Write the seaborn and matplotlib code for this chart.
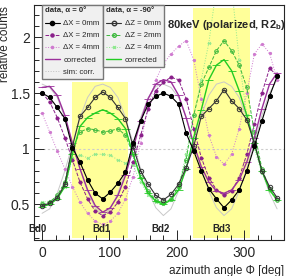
import numpy as np
import pandas as pd
import matplotlib
matplotlib.use("Agg")
import matplotlib.pyplot as plt
import seaborn as sns
from matplotlib.lines import Line2D
from matplotlib.patches import Rectangle
from matplotlib.ticker import MultipleLocator, FuncFormatter

# ─── data ────────────────────────────────────────────────
phi = [0, 11.25, 22.5, 33.75, 45, 56.25, 67.5, 78.75, 90, 101.25, 112.5, 123.75,
       135, 146.25, 157.5, 168.75, 180, 191.25, 202.5, 213.75, 225, 236.25, 247.5,
       258.75, 270, 281.25, 292.5, 303.75, 315, 326.25, 337.5, 348.75]

# alpha = 0 deg, shift in X
dx0 = [1.50, 1.46, 1.37, 1.27, 1.01, 0.88, 0.72, 0.60, 0.55, 0.61, 0.69, 0.79,
       1.05, 1.25, 1.40, 1.47, 1.50, 1.47, 1.40, 1.14, 0.98, 0.80, 0.64, 0.55,
       0.47, 0.54, 0.63, 0.80, 1.02, 1.25, 1.47, 1.65]
dx2 = [1.50, 1.42, 1.28, 1.10, 0.90, 0.70, 0.55, 0.44, 0.40, 0.43, 0.52, 0.66,
       0.88, 1.12, 1.36, 1.52, 1.60, 1.64, 1.62, 1.45, 1.18, 0.92, 0.74, 0.63,
       0.58, 0.62, 0.74, 0.95, 1.22, 1.50, 1.72, 1.66]
dx4 = [1.32, 1.15, 0.98, 0.82, 0.66, 0.52, 0.42, 0.35, 0.32, 0.35, 0.42, 0.55,
       0.75, 1.05, 1.38, 1.62, 1.76, 1.85, 1.92, 1.97, 1.80, 1.45, 1.12, 0.93,
       0.86, 0.95, 1.18, 1.50, 1.85, 1.94, 1.86, 1.62]
dx_corr = [1.55, 1.56, 1.48, 1.30, 1.05, 0.82, 0.63, 0.49, 0.43, 0.47, 0.58, 0.76,
           1.00, 1.25, 1.45, 1.58, 1.62, 1.60, 1.48, 1.28, 1.04, 0.84, 0.70, 0.62,
           0.60, 0.63, 0.72, 0.88, 1.10, 1.36, 1.58, 1.68]
sim0 = [1.58, 1.55, 1.46, 1.28, 1.05, 0.82, 0.62, 0.47, 0.40, 0.46, 0.60, 0.80,
        1.04, 1.28, 1.46, 1.56, 1.58, 1.55, 1.46, 1.28, 1.05, 0.82, 0.62, 0.47,
        0.40, 0.46, 0.62, 0.82, 1.05, 1.30, 1.50, 1.62]

# alpha = -90 deg, shift in Z
dz0 = [0.49, 0.51, 0.56, 0.68, 1.02, 1.29, 1.37, 1.46, 1.51, 1.46, 1.37, 1.27,
       1.02, 0.80, 0.68, 0.58, 0.54, 0.59, 0.68, 0.83, 1.02, 1.29, 1.36, 1.43,
       1.53, 1.43, 1.36, 1.26, 1.05, 0.80, 0.66, 0.56]
dz2 = [0.50, 0.52, 0.58, 0.70, 1.00, 1.15, 1.18, 1.17, 1.15, 1.16, 1.18, 1.12,
       0.95, 0.75, 0.62, 0.54, 0.51, 0.55, 0.66, 0.90, 1.30, 1.58, 1.73, 1.88,
       1.97, 1.88, 1.75, 1.55, 1.15, 0.82, 0.64, 0.54]
dz4 = [0.52, 0.53, 0.57, 0.66, 0.92, 0.94, 0.92, 0.95, 0.95, 0.94, 0.90, 0.87,
       0.85, 0.70, 0.58, 0.52, 0.50, 0.54, 0.66, 0.95, 1.30, 1.62, 1.95, 2.45,
       2.60, 2.45, 1.80, 1.30, 1.00, 0.78, 0.62, 0.54]
dz_corr = [0.48, 0.50, 0.55, 0.66, 0.95, 1.20, 1.28, 1.32, 1.35, 1.32, 1.27, 1.18,
           0.95, 0.74, 0.60, 0.53, 0.50, 0.54, 0.63, 0.82, 1.10, 1.35, 1.62, 1.75,
           1.80, 1.70, 1.52, 1.30, 1.05, 0.80, 0.63, 0.54]
sim90 = [0.42, 0.46, 0.60, 0.80, 1.04, 1.28, 1.46, 1.56, 1.58, 1.55, 1.46, 1.28,
         1.05, 0.82, 0.62, 0.47, 0.40, 0.46, 0.62, 0.82, 1.05, 1.30, 1.48, 1.58,
         1.60, 1.56, 1.46, 1.28, 1.04, 0.80, 0.60, 0.46]

bd_names = ["Bd0", "Bd1", "Bd2", "Bd3"]
bd_label_x = [-7, 88.6, 176, 266.6]
bd_boxes = [(44, 128, 0.20, 1.60), (224.5, 308.6, 0.20, 2.265)]

# ─── style ───────────────────────────────────────────────
sns.set_style("ticks")
plt.rcParams['font.family'] = ['Liberation Sans', 'DejaVu Sans']
plt.rcParams['mathtext.fontset'] = 'custom'
plt.rcParams['mathtext.rm'] = 'Liberation Sans'
plt.rcParams['mathtext.bf'] = 'Liberation Sans:bold'

fig, ax = plt.subplots(figsize=(2.87, 2.76), dpi=100)
fig.subplots_adjust(left=34 / 287, right=284 / 287, top=1 - 5 / 276, bottom=1 - 239.5 / 276)

for x0, x1, y0, y1 in bd_boxes:
    ax.add_patch(Rectangle((x0, y0), x1 - x0, y1 - y0, color='#ffff99', lw=0, zorder=0))
ax.axhline(1, color='#cccccc', lw=0.8, ls=(0, (2, 2)), zorder=0.5)


def draw(y, color, ls, marker, mfc, ms, lw, xe):
    sns.lineplot(x=phi, y=y, ax=ax, color=color, linestyle=ls, lw=lw, marker=marker,
                 markersize=ms, markerfacecolor=mfc, markeredgecolor=color,
                 markeredgewidth=0.7, estimator=None)
    if xe:
        ax.errorbar(phi, y, xerr=xe, fmt='none', ecolor=color, elinewidth=0.6)


purple, lpurple, cpurple = '#8a1f8a', '#cf7acf', '#9b309b'
green, lgreen, cgreen = '#3cb83c', '#8fe88f', '#22cc22'

draw(sim0, '#c8c8c8', '-', None, 'none', 0, 0.7, 0)
draw(sim90, '#c8c8c8', '-', None, 'none', 0, 0.7, 0)
draw(dx4, lpurple, ':', 'o', lpurple, 1.6, 0.7, 2.5)
draw(dz4, lgreen, ':', 'x', lgreen, 2.0, 0.7, 2.5)
draw(dx2, purple, '--', 'o', purple, 2.2, 0.7, 2.5)
draw(dz2, green, '--', 'o', 'none', 2.6, 0.7, 2.5)
draw(dx_corr, cpurple, '-', None, 'none', 0, 1.0, 6)
draw(dz_corr, cgreen, '-', None, 'none', 0, 1.0, 6)
draw(dz0, '#333333', '-', 'o', 'none', 3.2, 0.8, 2.5)
draw(dx0, 'black', '-', 'o', 'black', 3.0, 0.8, 2.5)

for name, bx in zip(bd_names, bd_label_x):
    ax.text(bx, 0.28, name, fontsize=7, fontweight='bold', ha='center', va='center')

ax.text((167 - 34) / 250, 0.915, r"80keV (polarized, R2$_\mathbf{b}$)", transform=ax.transAxes,
        fontsize=8, fontweight='bold', ha='left', va='center')

ax.set_xlim(-12, 359)
ax.set_ylim(0.185, 2.29)
ax.xaxis.set_major_locator(MultipleLocator(100))
ax.xaxis.set_minor_locator(MultipleLocator(20))
ax.yaxis.set_major_locator(MultipleLocator(0.5))
ax.yaxis.set_minor_locator(MultipleLocator(0.1))
ax.yaxis.set_major_formatter(FuncFormatter(lambda v, p: f"{v:g}"))
ax.tick_params(which='both', direction='in', width=0.7, labelsize=10, pad=3)
ax.tick_params(which='major', length=7)
ax.tick_params(which='minor', length=3.5)
ax.tick_params(axis='x', pad=5)
for s in ax.spines.values():
    s.set_visible(True)
    s.set_linewidth(0.8)

ax.set_xlabel("azimuth angle Φ [deg]", fontsize=8.5, loc='right', labelpad=3)
ax.set_ylabel("relative counts", fontsize=8.5, loc='top')
ax.yaxis.set_label_coords((11 - 34) / 250, 0.995)

# ─── legends ─────────────────────────────────────────────
h1 = [Line2D([], [], color='black', marker='o', ms=3, lw=0.8),
      Line2D([], [], color=purple, marker='o', ms=2.2, lw=0.7, ls='--'),
      Line2D([], [], color=lpurple, marker='o', ms=1.6, lw=0.7, ls=':'),
      Line2D([], [], color=cpurple, lw=1.0),
      Line2D([], [], color='#c0c0c0', lw=0.7, ls=':')]
l1 = ["ΔX = 0mm", "ΔX = 2mm", "ΔX = 4mm", "corrected", "sim: corr."]
h2 = [Line2D([], [], color='#333333', marker='o', mfc='none', ms=3.2, lw=0.8),
      Line2D([], [], color=green, marker='o', mfc='none', ms=2.6, lw=0.7, ls='--'),
      Line2D([], [], color=lgreen, marker='x', ms=2.0, lw=0.7, ls=':'),
      Line2D([], [], color=cgreen, lw=1.0)]
l2 = ["ΔZ = 0mm", "ΔZ = 2mm", "ΔZ = 4mm", "corrected"]

common = dict(loc='upper left', bbox_transform=fig.transFigure, fontsize=5.6,
              title_fontsize=5.6, frameon=True, fancybox=False, framealpha=1,
              facecolor='#f0f0f0', edgecolor='#777777', borderaxespad=0,
              handlelength=1.9, handletextpad=0.5, labelspacing=0.6,
              borderpad=0.4)
leg1 = ax.legend(h1, l1, title="data, α = 0°", bbox_to_anchor=(41.7 / 287, 1 - 5 / 276), **common)
leg1.get_title().set_fontweight('bold')
leg1._legend_box.align = "left"
ax.add_artist(leg1)
leg2 = ax.legend(h2, l2, title="data, α = -90°", bbox_to_anchor=(103 / 287, 1 - 5 / 276), **common)
leg2.get_title().set_fontweight('bold')
leg2._legend_box.align = "left"

fig.savefig("out.png", dpi=100)
